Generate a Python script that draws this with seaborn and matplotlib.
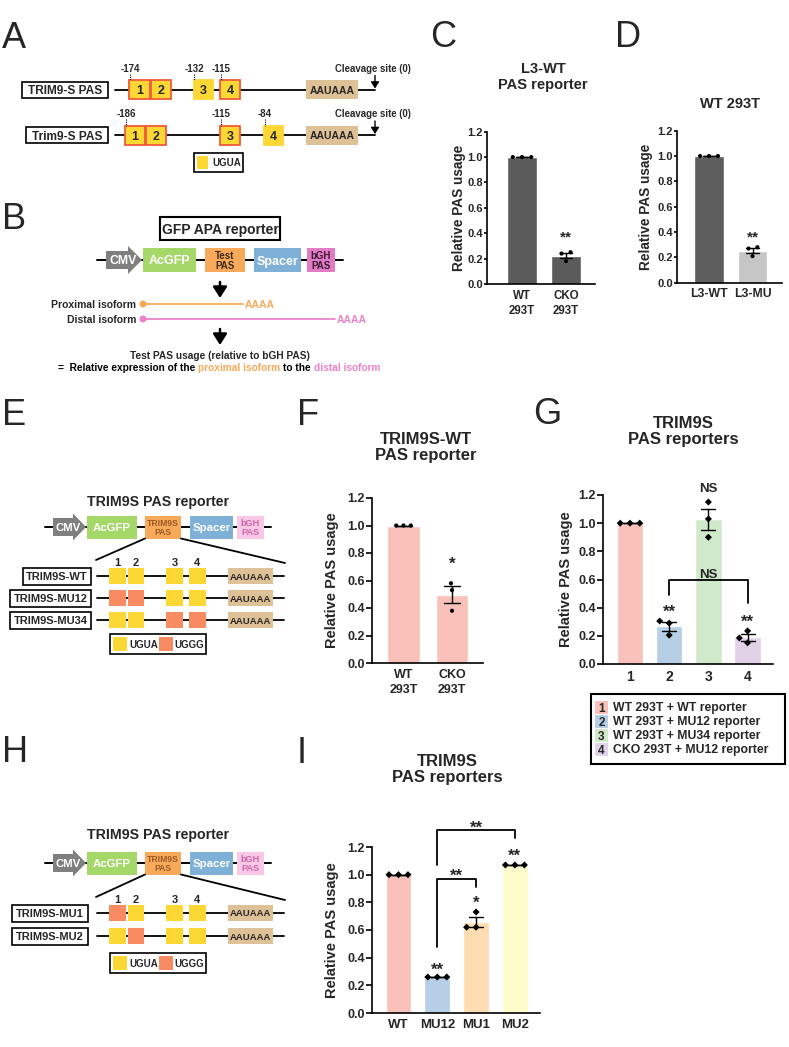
import numpy as np
import pandas as pd
import matplotlib
matplotlib.use("Agg")
import matplotlib.pyplot as plt
from matplotlib.patches import Rectangle, Polygon, Circle
from matplotlib.transforms import offset_copy
import seaborn as sns

# relative PAS usage, three replicates per bar
c_groups = ["WT\n293T", "CKO\n293T"]
c_values = [[1.0, 1.0, 1.0], [0.24, 0.25, 0.18]]
c_colors = ["#5b5b5b", "#5b5b5b"]

d_groups = ["L3-WT", "L3-MU"]
d_values = [[1.0, 1.0, 1.0], [0.28, 0.27, 0.21]]
d_colors = ["#5e5e5e", "#c6c6c6"]

f_groups = ["WT\n293T", "CKO\n293T"]
f_values = [[1.0, 1.0, 1.0], [0.58, 0.53, 0.38]]
f_colors = ["#f9c1ba", "#f9c1ba"]

g_groups = ["1", "2", "3", "4"]
g_values = [[1.0, 1.0, 1.0], [0.305, 0.205, 0.29], [1.15, 1.03, 0.90], [0.15, 0.235, 0.185]]
g_colors = ["#f9c1ba", "#b7cfe6", "#d1e9cb", "#e1d2e7"]
g_legend = ["WT 293T + WT reporter", "WT 293T + MU12 reporter",
            "WT 293T + MU34 reporter", "CKO 293T + MU12 reporter"]

i_groups = ["WT", "MU12", "MU1", "MU2"]
i_values = [[1.0, 1.0, 1.0], [0.26, 0.26, 0.26], [0.62, 0.73, 0.62], [1.07, 1.07, 1.07]]
i_colors = ["#f9c1ba", "#b7cfe6", "#fddcb1", "#fefccb"]

yticks = [0.0, 0.2, 0.4, 0.6, 0.8, 1.0, 1.2]

# colours of the schematics
YELLOW = "#fdd835"
RED = "#f05a3c"
SALMON = "#f98b62"
TAN = "#dfc197"
GRAY = "#7f7f7f"
GREEN = "#a5d769"
ORANGE = "#f8aa5a"
BLUE = "#7eb0d8"
MAGENTA = "#e37cc6"
LIGHTPINK = "#f8c8e8"
PINKTEXT = "#d266aa"
BROWN = "#9c5a26"
PINK = "#ec82c8"

W, H = 789, 1047
sns.set_style("ticks")
plt.rcParams["font.family"] = ["Liberation Sans", "DejaVu Sans"]
plt.rcParams["font.weight"] = "bold"
plt.rcParams["axes.labelweight"] = "bold"

fig = plt.figure(figsize=(W / 100, H / 100), dpi=100)
dax = fig.add_axes([0, 0, 1, 1])
dax.set_xlim(0, W)
dax.set_ylim(H, 0)
dax.axis("off")


def txt(x, y, s, fs, **kw):
    kw.setdefault("ha", "center")
    kw.setdefault("va", "center_baseline")
    return dax.text(x, y, s, fontsize=fs, **kw)


def bar_chart(groups, values, colors, box, first, step, fonts, label_x, dot, capsize, tick_len):
    left, right, y_top, y_zero = box
    tick_fs, label_fs, xlab_fs = fonts
    ax = fig.add_axes([left / W, 1 - y_zero / H, (right - left) / W, (y_zero - y_top) / H])
    ax.set_facecolor("none")
    df = pd.DataFrame({"group": np.repeat(groups, [len(v) for v in values]),
                       "value": np.concatenate(values)})
    sns.barplot(data=df, x="group", y="value", hue="group", order=groups, hue_order=groups,
                palette=dict(zip(groups, colors)), saturation=1, width=0.67,
                errorbar="se", capsize=capsize, legend=False,
                err_kws={"color": "black", "linewidth": 1.0}, ax=ax)
    marker, size, pad = dot
    sns.swarmplot(data=df, x="group", y="value", order=groups, color="black",
                  marker=marker, size=size, linewidth=pad, edgecolor="none", ax=ax)
    n = len(groups)
    ax.set_xlim(-(first - left) / step, n - 1 + (right - first - step * (n - 1)) / step)
    ax.set_ylim(0, 1.2)
    ax.set_yticks(yticks)
    ax.set_yticklabels([f"{t:.1f}" for t in yticks])
    ax.set_xticks(range(n))
    ax.set_xticklabels(groups, linespacing=1.4)
    sns.despine(ax=ax)
    for s in ["left", "bottom"]:
        ax.spines[s].set_linewidth(1.2)
        ax.spines[s].set_color("black")
    ax.tick_params(axis="y", length=tick_len, width=1.2, pad=1, labelsize=tick_fs, color="black")
    ax.tick_params(axis="x", length=0, pad=4, labelsize=xlab_fs)
    ax.set_xlabel("")
    ax.set_ylabel("Relative PAS usage", fontsize=label_fs)
    ax.yaxis.set_label_coords((label_x + 0.58 * label_fs * 100 / 72 - left) / (right - left), 0.5)
    return ax


def mark(ax, x, y, s, fs):
    # y is where the centre of the glyphs sits
    lift = (0.56 if "*" in s else 0.36) * fs * 100 / 72
    ax.text(x, y, s, fontsize=fs, ha="center", va="baseline",
            transform=offset_copy(ax.transData, fig=fig, y=-lift, units="dots"))


def bracket(ax, x0, x1, top, y0, y1):
    ax.plot([x0, x0, x1, x1], [y0, top, top, y1], color="black", lw=1.3, clip_on=False)


def cmv_arrow(x0, xh, x1, yc, hb, hh, fs):
    pts = [(x0, yc - hb / 2), (xh, yc - hb / 2), (xh, yc - hh / 2), (x1, yc),
           (xh, yc + hh / 2), (xh, yc + hb / 2), (x0, yc + hb / 2)]
    dax.add_patch(Polygon(pts, closed=True, fc=GRAY, ec="none", zorder=2))
    txt((x0 + x1) / 2 - 1, yc, "CMV", fs, color="white", zorder=3)


def construct(yc, line_x, cmv, blocks, bh):
    dax.plot(line_x, [yc, yc], color="black", lw=1.4, zorder=1)
    cmv_arrow(*cmv)
    for x0, x1, fc, s, tc, fs in blocks:
        dax.add_patch(Rectangle((x0, yc - bh / 2), x1 - x0, bh, fc=fc, ec="none", zorder=2))
        if "\n" in s:
            txt((x0 + x1) / 2, yc + 1, s, fs, color=tc, va="center", linespacing=1.0, zorder=3)
        else:
            txt((x0 + x1) / 2, yc, s, fs, color=tc, zorder=3)


def arrow_down(x, y0, y1, lw=1.8, ms=12):
    dax.annotate("", xy=(x, y1), xytext=(x, y0),
                 arrowprops=dict(arrowstyle="-|>,head_length=0.55,head_width=0.35", lw=lw,
                                 color="black", mutation_scale=ms, shrinkA=0, shrinkB=0))


# ---------------- panel A ----------------
def pas_row(y, name, name_x0, motifs, outlined, marks):
    dax.plot([115, 375], [y, y], color="black", lw=1.3, zorder=1)
    dax.add_patch(Rectangle((name_x0, y - 8), 108 - name_x0, 16, fc="white", ec="black", lw=1.2))
    txt((name_x0 + 108) / 2, y, name, 8.6)
    for k, (x0, x1) in enumerate(motifs):
        dax.add_patch(Rectangle((x0, y - 9.5), x1 - x0, 19, fc=YELLOW,
                                ec=RED if outlined[k] else YELLOW, lw=1.3, zorder=2))
        txt((x0 + x1) / 2, y, str(k + 1), 9, zorder=3)
    dax.add_patch(Rectangle((306, y - 9.5), 52, 19, fc=TAN, ec="none", zorder=2))
    txt(332, y, "AAUAAA", 7.5, zorder=3)
    arrow_down(375, y - 14, y - 1, lw=1.0, ms=7)
    txt(373, y - 18, "Cleavage site (0)", 6.9, va="baseline")
    for x, s in marks:
        dax.plot([x, x], [y - 16, y - 9.5], color="black", lw=0.8, ls=(0, (1, 1)))
        txt(x, y - 18, s, 7, va="baseline")


pas_row(89.5, "TRIM9-S PAS", 22, [(129, 150), (151, 171), (194, 213), (220, 240)],
        [True, True, False, True], [(130, "-174"), (194, "-132"), (221, "-115")])
pas_row(135, "Trim9-S PAS", 26, [(125, 145), (146, 166), (220, 240), (264, 283)],
        [True, True, True, False], [(126, "-186"), (221, "-115"), (265, "-84")])
dax.add_patch(Rectangle((194, 153), 49, 19, fc="white", ec="black", lw=1.2))
dax.add_patch(Rectangle((197, 156), 11, 13, fc=YELLOW, ec="none"))
txt(212, 162.5, "UGUA", 7, ha="left")

# ---------------- panel B ----------------
dax.add_patch(Rectangle((160, 217), 120, 23, fc="white", ec="black", lw=1.5))
txt(220, 228.5, "GFP APA reporter", 10)
construct(260, [97, 343], (106, 128, 142, 260, 18, 28, 8.8),
          [(143, 196, GREEN, "AcGFP", "white", 9),
           (205, 245, ORANGE, "Test\nPAS", "#3a2a1a", 7),
           (254, 301, BLUE, "Spacer", "white", 9),
           (307, 335, MAGENTA, "bGH\nPAS", "#3a1a30", 7)], 24)
arrow_down(220, 282, 298)
for y, name, x_end, col in [(304, "Proximal isoform", 243, ORANGE), (319, "Distal isoform", 335, PINK)]:
    txt(136, y, name, 7.5, ha="right")
    dax.add_patch(Circle((143, y), 3.5, fc=col, ec="none"))
    dax.plot([143, x_end], [y, y], color=col, lw=1.3)
    txt(x_end + 2, y, "AAAA", 7.5, ha="left", color=col)
arrow_down(220, 329, 345)
txt(220, 355, "Test PAS usage (relative to bGH PAS)", 7.3)


def rich_line(cx, y, pieces, fs):
    r = fig.canvas.get_renderer()

    def width(s):
        t = dax.text(0, 0, s, fontsize=fs)
        w = t.get_window_extent(r).width
        t.remove()
        return w

    space = width("a a") - width("aa")
    widths = [width(s) for s, _ in pieces]
    x = cx - (sum(widths) + space * (len(pieces) - 1)) / 2
    for (s, col), w in zip(pieces, widths):
        txt(x, y, s, fs, ha="left", color=col)
        x += w + space


rich_line(219, 367, [("=  Relative expression of the", "black"), ("proximal isoform", ORANGE),
                     ("to the", "black"), ("distal isoform", PINK)], 7.3)

# ---------------- panels E and H ----------------
small_blocks = [(87, 137, GREEN, "AcGFP", "white", 8.2),
                (145, 181, ORANGE, "TRIM9S\nPAS", BROWN, 6.2),
                (190, 233, BLUE, "Spacer", "white", 8.2),
                (237, 264, LIGHTPINK, "bGH\nPAS", PINKTEXT, 6.6)]
motif_x = [(109, 126), (128, 144), (166, 183), (189, 206)]


def motif_rows(ys, names, boxes, patterns):
    for y, name, (bx0, bx1), pat in zip(ys, names, boxes, patterns):
        dax.add_patch(Rectangle((bx0, y - 8.5), bx1 - bx0, 17, fc="white", ec="black", lw=1.2))
        txt((bx0 + bx1) / 2, y, name, 8)
        dax.plot([97, 284], [y, y], color="black", lw=1.3, zorder=1)
        for (x0, x1), m in zip(motif_x, pat):
            dax.add_patch(Rectangle((x0, y - 8), x1 - x0, 16,
                                    fc=YELLOW if m == "UGUA" else SALMON, ec="none", zorder=2))
        dax.add_patch(Rectangle((228, y - 8), 45, 16, fc=TAN, ec="none", zorder=2))
        txt(250.5, y, "AAUAAA", 6.8, zorder=3)


def motif_legend(x0, y0):
    dax.add_patch(Rectangle((x0, y0), 96, 20, fc="white", ec="black", lw=1.2))
    dax.add_patch(Rectangle((x0 + 3, y0 + 3), 14, 14, fc=YELLOW, ec="none"))
    txt(x0 + 19, y0 + 10, "UGUA", 7, ha="left")
    dax.add_patch(Rectangle((x0 + 49, y0 + 3), 14, 14, fc=SALMON, ec="none"))
    txt(x0 + 64, y0 + 10, "UGGG", 7, ha="left")


def trim9s_panel(title_y, yc, rows_y, names, boxes, patterns, legend_y):
    txt(158, title_y, "TRIM9S PAS reporter", 10.2, va="baseline")
    construct(yc, [45, 271], (53, 73, 86, yc, 18, 27, 8.2), small_blocks, 23)
    dax.plot([145, 96], [yc + 11.5, rows_y[0] - 16], color="black", lw=1.3)
    dax.plot([181, 285], [yc + 11.5, rows_y[0] - 13], color="black", lw=1.3)
    for k, (x0, x1) in enumerate(motif_x):
        txt((x0 + x1) / 2, rows_y[0] - 14, str(k + 1), 8)
    motif_rows(rows_y, names, boxes, patterns)
    motif_legend(110, legend_y)


trim9s_panel(506, 527, [576, 598, 620], ["TRIM9S-WT", "TRIM9S-MU12", "TRIM9S-MU34"],
             [(23, 91), (10, 91), (10, 91)],
             [["UGUA"] * 4, ["UGGG", "UGGG", "UGUA", "UGUA"], ["UGUA", "UGUA", "UGGG", "UGGG"]], 634)
trim9s_panel(839, 863, [913, 936], ["TRIM9S-MU1", "TRIM9S-MU2"],
             [(12, 88), (12, 88)],
             [["UGGG", "UGUA", "UGUA", "UGUA"], ["UGUA", "UGGG", "UGUA", "UGUA"]], 953)

# ---------------- bar charts ----------------
ax_c = bar_chart(c_groups, c_values, c_colors, (487, 595, 131.7, 284), 522, 44,
                 (8, 9.8, 8.3), 458, ("o", 3, 3.3), 0.28, 2)
mark(ax_c, 1, 0.40, "**", 11)
txt(543, 89, "L3-WT\nPAS reporter", 10.5, va="baseline", linespacing=1.15)

ax_d = bar_chart(d_groups, d_values, d_colors, (677, 782, 130.7, 282.7), 709, 43.5,
                 (8, 9.8, 8.8), 645, ("o", 3, 3.1), 0.28, 2)
mark(ax_d, 1, 0.39, "**", 11)
txt(730, 108, "WT 293T", 10.5, va="baseline")

ax_f = bar_chart(f_groups, f_values, f_colors, (372, 483, 498, 663), 403.5, 48.5,
                 (9, 10.5, 9), 331, ("o", 3, 2.0), 0.35, 4)
mark(ax_f, 1, 0.75, "*", 12)
txt(426, 460, "TRIM9S-WT\nPAS reporter", 12, va="baseline", linespacing=1.1)

ax_g = bar_chart(g_groups, g_values, g_colors, (603, 773, 495, 664), 630, 39.2,
                 (9, 10.5, 10), 565, ("D", 3.6, 3.1), 0.36, 4)
mark(ax_g, 2, 1.255, "NS", 9.5)
mark(ax_g, 1, 0.404, "**", 12)
mark(ax_g, 3, 0.333, "**", 12)
bracket(ax_g, 1, 3, 0.596, 0.489, 0.43)
mark(ax_g, 2, 0.647, "NS", 9.5)
txt(683, 444, "TRIM9S\nPAS reporters", 12, va="baseline", linespacing=1.1)

dax.add_patch(Rectangle((591, 694), 194, 70, fc="white", ec="black", lw=1.5))
for k, (name, col) in enumerate(zip(g_legend, g_colors)):
    yk = 707 + 14 * k
    dax.add_patch(Rectangle((595, yk - 6.5), 13, 13, fc=col, ec="none"))
    txt(601.5, yk, g_groups[k], 8.5)
    txt(613, yk, name, 8.8, ha="left")

ax_i = bar_chart(i_groups, i_values, i_colors, (372, 540, 847, 1013), 398.5, 38.8,
                 (9, 10.5, 9.5), 331, ("D", 3.6, 2.9), 0.38, 4)
mark(ax_i, 1, 0.347, "**", 12)
mark(ax_i, 2, 0.83, "*", 12)
mark(ax_i, 3, 1.166, "**", 12)
bracket(ax_i, 1, 2, 0.97, 0.48, 0.91)
mark(ax_i, 1.5, 1.02, "**", 12)
bracket(ax_i, 1, 3, 1.323, 1.07, 1.263)
mark(ax_i, 2, 1.37, "**", 12)
txt(447, 782, "TRIM9S\nPAS reporters", 12, va="baseline", linespacing=1.1)

# panel letters
for s, x, y in [("A", 2, 48), ("B", 2, 229), ("C", 430, 47), ("D", 615, 47), ("E", 2, 425),
                ("F", 297, 425), ("G", 533, 424), ("H", 2, 762), ("I", 297, 763)]:
    dax.text(x, y, s, fontsize=26, fontweight="normal", ha="left", va="baseline")

fig.savefig("out.png", dpi=100)
